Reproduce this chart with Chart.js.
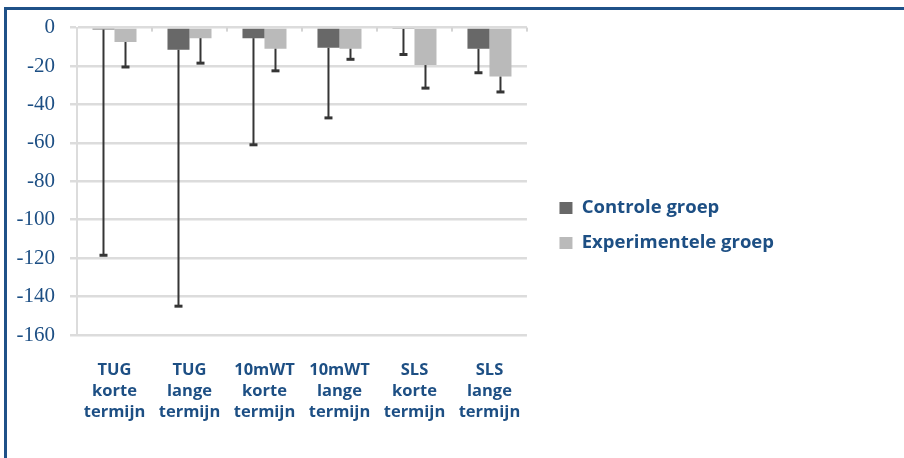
<!DOCTYPE html>
<html>
<head>
<meta charset="utf-8">
<script src="https://cdn.jsdelivr.net/npm/chart.js@4"></script>
<style>
  html, body { margin: 0; padding: 0; background: #fff; }
  #frame { position: absolute; left: 4px; top: 7px; width: 900px; height: 451px;
           border-top: 3px solid #1f5188; border-left: 3px solid #1f5188; box-sizing: border-box; }
  #wrap { position: absolute; left: 0; top: 0; width: 904px; height: 458px; }
</style>
</head>
<body>
<div id="frame"></div>
<div id="wrap"><canvas id="chart"></canvas></div>
<script>
var categories = [
  ['TUG', 'korte', 'termijn'],
  ['TUG', 'lange', 'termijn'],
  ['10mWT', 'korte', 'termijn'],
  ['10mWT', 'lange', 'termijn'],
  ['SLS', 'korte', 'termijn'],
  ['SLS', 'lange', 'termijn']
];
var series_names = ['Controle groep', 'Experimentele groep'];
var controle = [-1, -11.5, -5.5, -10.5, -0.7, -11];
var experimenteel = [-7.5, -5.5, -11, -11, -19.5, -25.5];
// lower ends of the error bars
var controle_err = [-118.5, -145, -61, -47, -14, -23.5];
var experimenteel_err = [-20.5, -18.5, -22.5, -16.5, -31.5, -33.5];
var y_ticks = [0, -20, -40, -60, -80, -100, -120, -140, -160];

var blue = '#1d4f84';

// small category tick marks on the zero line (excel style)
const zeroTicks = {
  id: 'zeroTicks',
  beforeDatasetsDraw(chart) {
    var ctx = chart.ctx;
    var x = chart.scales.x;
    var y0 = chart.scales.y.getPixelForValue(0);
    ctx.save();
    ctx.strokeStyle = '#d4d4d4';
    ctx.lineWidth = 2;
    for (let i = 1; i <= categories.length; i++) {
      var px = x.getPixelForValue(i - 0.5);
      ctx.beginPath();
      ctx.moveTo(px, y0);
      ctx.lineTo(px, y0 + 4);
      ctx.stroke();
    }
    ctx.restore();
  }
};

const errorBars = {
  id: 'errorBars',
  afterDatasetsDraw(chart) {
    var ctx = chart.ctx;
    var y = chart.scales.y;
    var errs = [controle_err, experimenteel_err];
    ctx.save();
    ctx.strokeStyle = '#353535';
    chart.data.datasets.forEach(function(ds, di) {
      chart.getDatasetMeta(di).data.forEach(function(bar, i) {
        var top = y.getPixelForValue(ds.data[i]);
        var bot = y.getPixelForValue(errs[di][i]);
        ctx.lineWidth = 2;
        ctx.beginPath();
        ctx.moveTo(bar.x, top);
        ctx.lineTo(bar.x, bot);
        ctx.stroke();
        ctx.lineWidth = 3;
        ctx.beginPath();
        ctx.moveTo(bar.x - 4, bot);
        ctx.lineTo(bar.x + 4, bot);
        ctx.stroke();
      });
    });
    ctx.restore();
  }
};

const data = {
  labels: categories,
  datasets: [
    { label: series_names[0], data: controle, backgroundColor: '#686868' },
    { label: series_names[1], data: experimenteel, backgroundColor: '#bababa' }
  ]
};

const config = {
  type: 'bar',
  data: data,
  plugins: [zeroTicks, errorBars],
  options: {
    responsive: true,
    maintainAspectRatio: false,
    animation: false,
    layout: { padding: { top: 22, right: 120, bottom: 29, left: 0 } },
    datasets: { bar: { categoryPercentage: 0.587, barPercentage: 1 } },
    plugins: {
      title: { display: false },
      tooltip: { enabled: false },
      legend: {
        display: true,
        position: 'right',
        maxWidth: 300,
        labels: {
          color: blue,
          boxWidth: 13,
          boxHeight: 12,
          padding: 16.5,
          font: { family: 'Open Sans', size: 18.5, weight: 'bold' }
        }
      }
    },
    scales: {
      x: {
        grid: { display: false },
        border: { display: false },
        ticks: {
          color: blue,
          padding: 17,
          maxRotation: 0,
          font: { family: 'Open Sans', size: 16.5, weight: 'bold', lineHeight: 1.27 }
        },
        afterFit: function(s) { s.height = 94; }
      },
      y: {
        min: -160,
        max: 0,
        afterBuildTicks: function(s) { s.ticks = y_ticks.map(function(v) { return { value: v }; }); },
        grid: { color: '#dcdcdc', lineWidth: 2.5, tickLength: 7 },
        border: { display: true, color: '#dcdcdc', width: 2 },
        ticks: {
          color: blue,
          padding: 15,
          font: { family: 'Liberation Serif', size: 21 }
        },
        afterFit: function(s) { s.width = 77; }
      },
      gap: {
        type: 'linear',
        position: 'right',
        display: true,
        grid: { display: false },
        border: { display: false },
        ticks: { display: false },
        afterFit: function(s) { s.width = 16; }
      }
    }
  }
};

const myChart = new Chart(document.getElementById('chart'), config);
</script>
</body>
</html>
